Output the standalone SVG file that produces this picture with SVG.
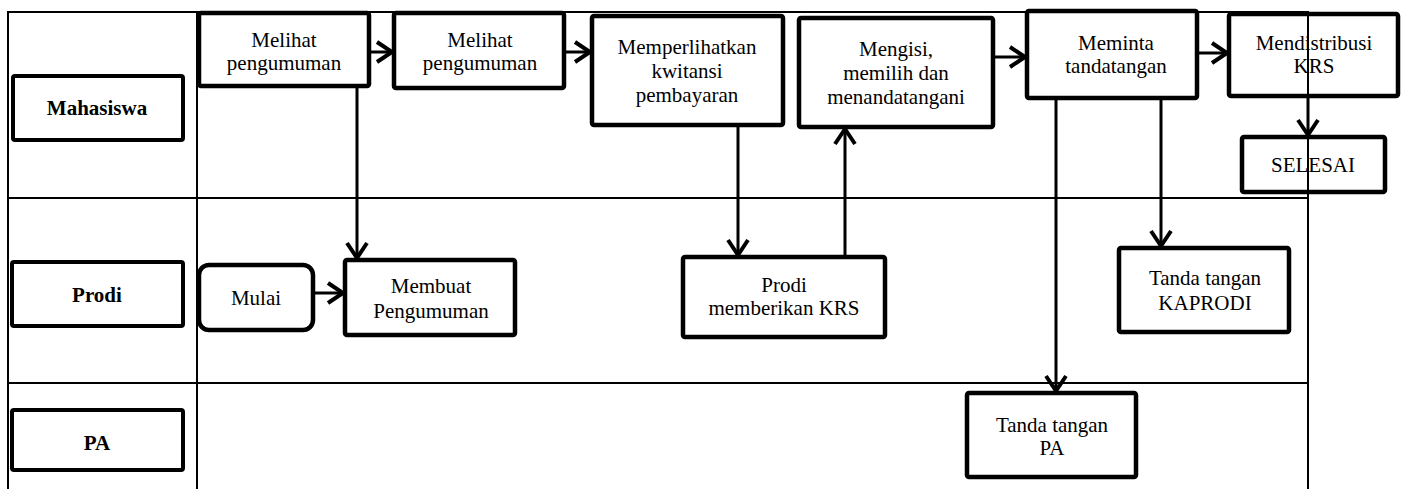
<svg xmlns="http://www.w3.org/2000/svg" width="1406" height="489" viewBox="0 0 1406 489">
  <defs>
    <marker id="chev" viewBox="-22 -14 26 28" markerWidth="26" markerHeight="28" refX="0" refY="0" markerUnits="userSpaceOnUse" orient="auto">
      <path d="M-17,-10 L-2,0 L-17,10" fill="none" stroke="#000" stroke-width="4"/>
    </marker>
    <style>
      .grid { stroke: #000; stroke-width: 2; fill: none; }
      .box { fill: #fff; stroke: #000; stroke-width: 4.5; }
      .lbl { fill: #fff; stroke: #000; stroke-width: 4; }
      .conn { stroke: #000; stroke-width: 3; fill: none; marker-end: url(#chev); }
      text { font-family: "Liberation Serif", "Times New Roman", serif; font-size: 21px; fill: #000; text-anchor: middle; }
      .bold { font-weight: bold; }
    </style>
  </defs>

  <rect width="1406" height="489" fill="#fff"/>

  <!-- swimlane grid -->
  <g id="lanes">
    <line class="grid" x1="8" y1="12" x2="1308" y2="12"/>
    <line class="grid" x1="8" y1="11" x2="8" y2="489"/>
    <line class="grid" x1="197" y1="11" x2="197" y2="489"/>
    <line class="grid" x1="8" y1="198" x2="1308" y2="198"/>
    <line class="grid" x1="8" y1="383" x2="1308" y2="383"/>
  </g>

  <!-- lane labels -->
  <g id="lane-mahasiswa">
    <rect class="lbl" x="13" y="76" width="170" height="64" rx="2"/>
    <text class="bold" x="97" y="115">Mahasiswa</text>
  </g>
  <g id="lane-prodi">
    <rect class="lbl" x="12" y="262" width="171" height="64" rx="2"/>
    <text class="bold" x="97" y="302">Prodi</text>
  </g>
  <g id="lane-pa">
    <rect class="lbl" x="12" y="410" width="171" height="60" rx="2"/>
    <text class="bold" x="97" y="450">PA</text>
  </g>

  <!-- connectors -->
  <g id="connectors">
    <line class="conn" x1="369" y1="52" x2="394" y2="52"/>
    <line class="conn" x1="564" y1="52" x2="592" y2="52"/>
    <line class="conn" x1="993" y1="57" x2="1027" y2="57"/>
    <line class="conn" x1="1197" y1="53" x2="1229" y2="53"/>
    <line class="conn" x1="1308" y1="96" x2="1308" y2="137"/>
    <line class="conn" x1="357" y1="86" x2="357" y2="260"/>
    <line class="conn" x1="313" y1="293" x2="345" y2="293"/>
    <line class="conn" x1="738" y1="125" x2="738" y2="257"/>
    <line class="conn" x1="845" y1="257" x2="845" y2="127"/>
    <line class="conn" x1="1161" y1="98" x2="1161" y2="248"/>
    <line class="conn" x1="1056" y1="98" x2="1056" y2="393"/>
  </g>

  <!-- activities -->
  <g id="melihat-1">
    <rect class="box" x="199" y="13" width="170" height="73" rx="2"/>
    <text x="284" y="47">Melihat</text>
    <text x="284" y="70">pengumuman</text>
  </g>
  <g id="melihat-2">
    <rect class="box" x="394" y="13" width="170" height="75" rx="2"/>
    <text x="480" y="47">Melihat</text>
    <text x="480" y="70">pengumuman</text>
  </g>
  <g id="memperlihatkan">
    <rect class="box" x="592" y="16" width="191" height="109" rx="2"/>
    <text x="687" y="54">Memperlihatkan</text>
    <text x="687" y="78">kwitansi</text>
    <text x="687" y="102">pembayaran</text>
  </g>
  <g id="mengisi">
    <rect class="box" x="799" y="18" width="194" height="109" rx="2"/>
    <text x="896" y="56">Mengisi,</text>
    <text x="896" y="80">memilih dan</text>
    <text x="896" y="104">menandatangani</text>
  </g>
  <g id="meminta">
    <rect class="box" x="1027" y="11" width="170" height="87" rx="2"/>
    <text x="1116" y="50">Meminta</text>
    <text x="1116" y="73">tandatangan</text>
  </g>
  <g id="mendistribusi">
    <rect class="box" x="1229" y="14" width="169" height="82" rx="2"/>
    <text x="1314" y="50">Mendistribusi</text>
    <text x="1314" y="73">KRS</text>
  </g>
  <g id="selesai">
    <rect class="box" x="1242" y="137" width="143" height="55" rx="2"/>
    <text x="1313" y="172">SELESAI</text>
  </g>
  <g id="mulai">
    <rect class="box" x="199" y="265" width="114" height="65" rx="10"/>
    <text x="256" y="305">Mulai</text>
  </g>
  <g id="membuat-pengumuman">
    <rect class="box" x="345" y="260" width="170" height="75" rx="2"/>
    <text x="431" y="293">Membuat</text>
    <text x="431" y="318">Pengumuman</text>
  </g>
  <g id="prodi-krs">
    <rect class="box" x="683" y="257" width="202" height="80" rx="2"/>
    <text x="784" y="292">Prodi</text>
    <text x="784" y="315">memberikan KRS</text>
  </g>
  <g id="ttd-kaprodi">
    <rect class="box" x="1119" y="248" width="170" height="84" rx="2"/>
    <text x="1205" y="285">Tanda tangan</text>
    <text x="1205" y="310">KAPRODI</text>
  </g>
  <g id="ttd-pa">
    <rect class="box" x="967" y="393" width="169" height="84" rx="2"/>
    <text x="1052" y="432">Tanda tangan</text>
    <text x="1052" y="455">PA</text>
  </g>

  <!-- right lane border, drawn over the last column -->
  <g id="lane-edge">
    <line class="grid" x1="1308" y1="11" x2="1308" y2="489"/>
  </g>
</svg>
